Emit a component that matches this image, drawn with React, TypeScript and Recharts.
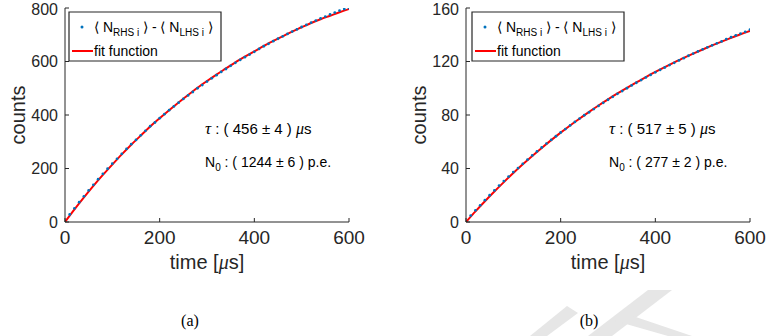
import { ComposedChart, Scatter, Line, XAxis, YAxis } from 'recharts';

const FONT = '"Liberation Sans", Arial, Helvetica, sans-serif';
const SERIF = "'Liberation Serif', 'DejaVu Serif', serif";
const AXIS = '#262626';
const BLUE = '#0072BD';
const RED = '#FF0000';

// measured points, every 10 us
const dataTimes = [
  10, 20, 30, 40, 50, 60, 70, 80, 90, 100, 110, 120, 130, 140, 150, 160, 170, 180, 190, 200,
  210, 220, 230, 240, 250, 260, 270, 280, 290, 300, 310, 320, 330, 340, 350, 360, 370, 380, 390, 400,
  410, 420, 430, 440, 450, 460, 470, 480, 490, 500, 510, 520, 530, 540, 550, 560, 570, 580, 590, 600,
];
const countsA = [
  28, 51, 74, 96, 118, 139, 160, 180, 199, 218, 236, 255, 273, 291, 307, 324, 341, 358, 372, 388,
  403, 418, 432, 446, 460, 473, 486, 500, 512, 525, 537, 549, 561, 572, 584, 595, 606, 616, 626, 636,
  647, 657, 666, 676, 685, 694, 703, 712, 720, 729, 737, 745, 753, 761, 768, 776, 783, 790, 796, 800,
];
const countsB = [
  4.8, 8.7, 12.5, 16.3, 20.0, 23.6, 27.2, 30.6, 34.0, 37.3, 40.3, 43.5, 46.7, 49.8, 52.8, 55.7, 58.6, 61.4, 64.1, 66.9,
  69.5, 72.2, 74.8, 77.3, 79.8, 82.0, 84.4, 86.8, 89.1, 91.4, 93.6, 95.8, 97.9, 100.0, 102.1, 104.1, 106.1, 108.1, 110.0, 111.9,
  113.7, 115.5, 117.3, 119.0, 120.8, 122.5, 124.3, 125.9, 127.5, 129.1, 130.6, 132.1, 133.6, 135.0, 136.8, 138.2, 139.6, 140.9, 142.2, 143.8,
];

// fit curves
const fitTimes = [
  0, 20, 40, 60, 80, 100, 120, 140, 160, 180, 200, 220, 240, 260, 280, 300,
  320, 340, 360, 380, 400, 420, 440, 460, 480, 500, 520, 540, 560, 580, 600,
];
const fitA = [
  0, 47, 92, 135, 176, 215, 253, 289, 323, 357, 388, 418, 447, 475, 502, 527,
  551, 574, 597, 618, 638, 658, 677, 694, 712, 728, 744, 758, 771, 784, 796,
];
const fitB = [
  0, 7.9, 15.5, 22.8, 29.8, 36.6, 43.1, 49.4, 55.4, 61.2, 66.8, 72.2, 77.3, 82.3, 87.1, 91.7,
  96.1, 100.3, 104.4, 108.4, 112.2, 115.8, 119.3, 122.7, 125.9, 129.0, 132.0, 134.9, 137.7, 140.4, 142.9,
];

const xTicks = [0, 200, 400, 600];
const yTicksA = [0, 200, 400, 600, 800];
const yTicksB = [0, 40, 80, 120, 160];

const legendBox = (x: number) => (
  <g fontFamily={FONT} fill="#000">
    <path d={`M${x},12 H${x + 152} V61 H${x} Z`} fill="#fff" stroke={AXIS} strokeWidth={1.2} />
    <circle cx={x + 13} cy={27} r={1.5} fill={BLUE} />
    <text x={x + 25} y={32} fontSize={14}>
      ⟨ N<tspan fontSize={10} dy={4}>RHS i</tspan><tspan dy={-4}> ⟩ - ⟨ N</tspan>
      <tspan fontSize={10} dy={4}>LHS i</tspan><tspan dy={-4}> ⟩</tspan>
    </text>
    <line x1={x + 3} x2={x + 24} y1={51} y2={51} stroke={RED} strokeWidth={2} />
    <text x={x + 25} y={51} fontSize={14} dominantBaseline="central">
      fit function
    </text>
  </g>
);

const emptyTick = () => <g />;

const yLabel = (props: any) => {
  const vb = props.viewBox || { x: 0 };
  const x = vb.x + 18;
  const y = 115;
  return (
    <text x={x} y={y} transform={`rotate(-90 ${x} ${y})`} textAnchor="middle" dominantBaseline="central"
      fontSize={20} fill={AXIS} fontFamily={FONT}>
      counts
    </text>
  );
};

const xLabel = (props: any) => {
  const vb = props.viewBox || { x: 0, y: 0, width: 0 };
  return (
    <text x={vb.x + vb.width / 2} y={262} textAnchor="middle" dominantBaseline="central" fontSize={20}
      fill={AXIS} fontFamily={FONT}>
      time [<tspan fontStyle="italic" fontFamily={SERIF}>μ</tspan>s]
    </text>
  );
};

interface PanelProps {
  left: number;
  counts: number[];
  fit: number[];
  yTicks: number[];
  marginLeft: number;
  marginRight: number;
}

function Panel({ left, counts, fit, yTicks, marginLeft, marginRight }: PanelProps) {
  const dots = dataTimes.map((t, i) => ({ t, v: counts[i] }));
  const fitRows = fitTimes.map((t, i) => ({ t, f: fit[i] }));
  const yMax = yTicks[yTicks.length - 1];
  return (
    <div style={{ position: 'absolute', left, top: 0, width: 383, height: 336 }}>
      <ComposedChart width={383} height={336} margin={{ top: 8, right: marginRight, bottom: 84, left: marginLeft }}>
        <XAxis dataKey="t" type="number" domain={[0, 600]} ticks={xTicks} allowDataOverflow height={30}
          tickSize={-4} tickMargin={13} stroke={AXIS} tick={{ fill: AXIS, fontSize: 19, fontFamily: FONT }}
          label={xLabel} />
        <XAxis xAxisId="top" orientation="top" type="number" domain={[0, 600]} ticks={xTicks} allowDataOverflow
          height={0} tickSize={-4} stroke={AXIS} tick={emptyTick} />
        <YAxis type="number" domain={[0, yMax]} ticks={yTicks} allowDataOverflow width={65} tickSize={-4}
          tickMargin={11} stroke={AXIS} tick={{ fill: AXIS, fontSize: 16, fontFamily: FONT }} label={yLabel} />
        <YAxis yAxisId="right" orientation="right" type="number" domain={[0, yMax]} ticks={yTicks} allowDataOverflow
          width={0} tickSize={-4} stroke={AXIS} tick={emptyTick} />
        <Scatter data={dots} dataKey="v" isAnimationActive={false}
          shape={(p: any) => <circle cx={p.cx} cy={p.cy} r={1.4} fill={BLUE} />} />
        <Line data={fitRows} dataKey="f" type="monotone" stroke={RED} strokeWidth={2} dot={false}
          isAnimationActive={false} />
      </ComposedChart>
    </div>
  );
}

const annot = (x: number, tau: string, n0: string) => (
  <g fontFamily={FONT} fill="#000">
    <text x={x} y={128} dominantBaseline="central" fontSize={15}>
      <tspan fontStyle="italic" fontFamily={SERIF} fontSize={17}>τ</tspan> : ( {tau} ) <tspan fontStyle="italic" fontFamily={SERIF} fontSize={16}>μ</tspan>s
    </text>
    <text x={x} y={162} dominantBaseline="central" fontSize={14}>
      N<tspan fontSize={10} dy={5}>0</tspan><tspan dy={-5}> : ( {n0} ) p.e.</tspan>
    </text>
  </g>
);

export default function App() {
  return (
    <div style={{ position: 'relative', width: 766, height: 336, background: '#fff', overflow: 'hidden' }}>
      <style>{'body{margin:0}'}</style>
      <Panel left={0} counts={countsA} fit={fitA} yTicks={yTicksA} marginLeft={0} marginRight={34} />
      <Panel left={383} counts={countsB} fit={fitB} yTicks={yTicksB} marginLeft={18} marginRight={16} />
      <svg width={766} height={336} style={{ position: 'absolute', left: 0, top: 0, pointerEvents: 'none' }}>
        <g fill="#e6e6e6">
          <polygon points="530,336 547,336 578,313 567,306" />
          <polygon points="648,290 672,290 612,336 588,336" />
          <polygon points="612,320 621,312 692,336 668,336" />
        </g>
        {legendBox(69)}
        {legendBox(472)}
        {annot(205, '456 ± 4', '1244 ± 6')}
        {annot(609, '517 ± 5', '277 ± 2')}
        <g fontFamily={SERIF} fontSize={16} fill="#000" textAnchor="middle">
          <text x={190} y={320} dominantBaseline="central">(a)</text>
          <text x={589} y={320} dominantBaseline="central">(b)</text>
        </g>
      </svg>
    </div>
  );
}
